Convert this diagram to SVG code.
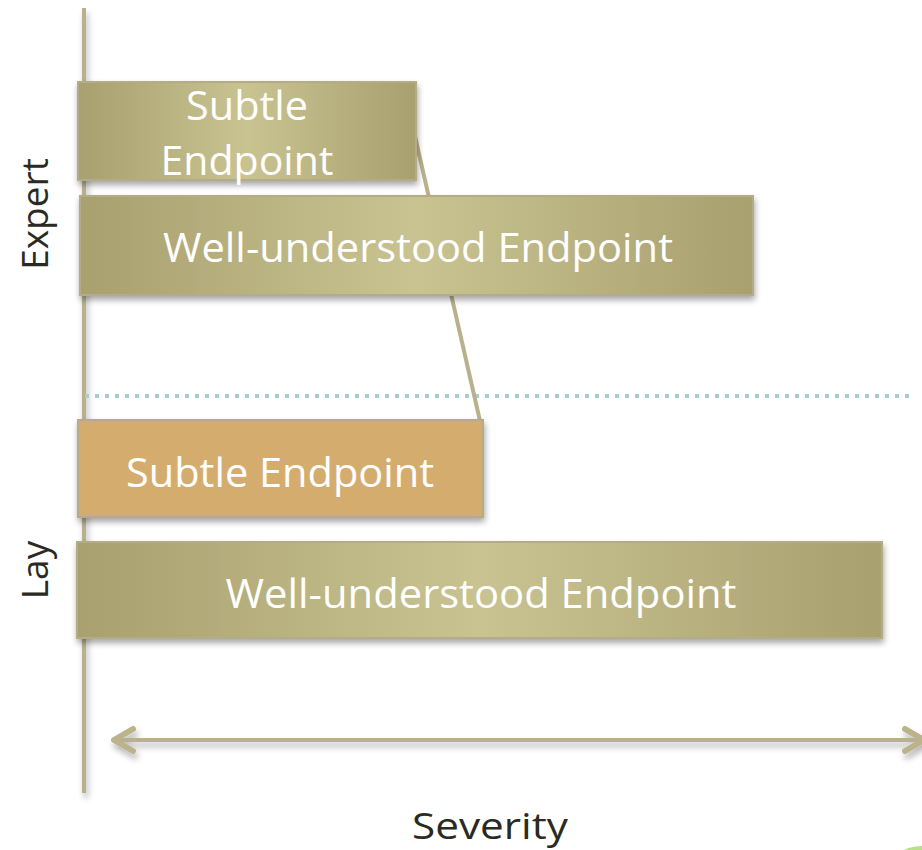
<svg xmlns="http://www.w3.org/2000/svg" width="922" height="850" viewBox="0 0 922 850">
<defs>
<linearGradient id="olive" x1="0" y1="0" x2="1" y2="0">
<stop offset="0" stop-color="#a8a06e"/>
<stop offset="0.5" stop-color="#c9c392"/>
<stop offset="1" stop-color="#a8a06e"/>
</linearGradient>
<filter id="sh" x="-5%" y="-10%" width="110%" height="130%">
<feGaussianBlur in="SourceAlpha" stdDeviation="3"/>
<feOffset dx="1" dy="4" result="b"/>
<feComponentTransfer><feFuncA type="linear" slope="0.35"/></feComponentTransfer>
<feMerge><feMergeNode/><feMergeNode in="SourceGraphic"/></feMerge>
</filter>
<filter id="lsh" filterUnits="userSpaceOnUse" x="0" y="0" width="922" height="850">
<feGaussianBlur in="SourceAlpha" stdDeviation="3"/>
<feOffset dx="2" dy="5" result="b"/>
<feComponentTransfer><feFuncA type="linear" slope="0.3"/></feComponentTransfer>
<feMerge><feMergeNode/><feMergeNode in="SourceGraphic"/></feMerge>
</filter>
<marker id="chev" viewBox="-22 -4 28 32" refX="2" refY="12" markerWidth="28" markerHeight="32" markerUnits="userSpaceOnUse" orient="auto-start-reverse">
<path d="M-17,1 L2,12 L-17,23" fill="none" stroke="#bbb38c" stroke-width="6" stroke-linecap="round" stroke-linejoin="round"/>
</marker>
</defs>
<style>
.box{stroke:#b3ac86;stroke-width:2;filter:url(#sh)}
.lbl{font-family:"Open Sans","Liberation Sans",sans-serif;font-size:40px;fill:#ffffff;text-anchor:middle}
.axis{font-family:"Open Sans","Liberation Sans",sans-serif;font-size:37px;fill:#2b2a22;text-anchor:middle}
.ln{stroke:#b9b18d;stroke-width:4;fill:none}
</style>
<g id="connectors">
<line class="ln" x1="84" y1="8" x2="84" y2="793" filter="url(#lsh)"/>
<line x1="85" y1="396" x2="912" y2="396" stroke="#a9cccc" stroke-width="4" stroke-dasharray="4 6"/>
<line class="ln" x1="409" y1="110" x2="480" y2="421"/>
<line class="ln" x1="114" y1="740" x2="924" y2="740" stroke-width="5" marker-start="url(#chev)" marker-end="url(#chev)" filter="url(#lsh)"/>
</g>
<g id="expert-subtle">
<rect class="box" x="78" y="82" width="338" height="98" fill="url(#olive)"/>
<text class="lbl" x="247" y="120" textLength="122" lengthAdjust="spacingAndGlyphs">Subtle</text>
<text class="lbl" x="247" y="175" textLength="173" lengthAdjust="spacingAndGlyphs">Endpoint</text>
</g>
<g id="expert-well">
<rect class="box" x="80" y="196" width="673" height="99" fill="url(#olive)"/>
<text class="lbl" x="418" y="262" textLength="510" lengthAdjust="spacingAndGlyphs">Well-understood Endpoint</text>
</g>
<g id="lay-subtle">
<rect class="box" x="78" y="420" width="405" height="97" fill="#d4ad6e"/>
<text class="lbl" x="280" y="487" textLength="308" lengthAdjust="spacingAndGlyphs">Subtle Endpoint</text>
</g>
<g id="lay-well">
<rect class="box" x="77" y="542" width="805" height="96" fill="url(#olive)"/>
<text class="lbl" x="481" y="608" textLength="511" lengthAdjust="spacingAndGlyphs">Well-understood Endpoint</text>
</g>
<g id="axis-labels">
<text class="axis" transform="translate(48,214) rotate(-90)">Expert</text>
<text class="axis" transform="translate(48,570) rotate(-90)">Lay</text>
<text class="axis" x="490" y="839" textLength="156" lengthAdjust="spacingAndGlyphs">Severity</text>
</g>
<ellipse cx="922" cy="858" rx="24" ry="12" fill="#a6d86a" opacity="0.8"/>
</svg>
